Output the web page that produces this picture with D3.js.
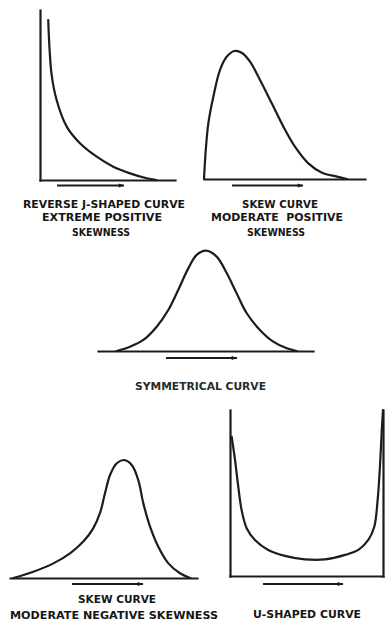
<!DOCTYPE html>
<html>
<head>
<meta charset="utf-8">
<script src="https://cdn.jsdelivr.net/npm/d3@7"></script>
<style>
  html, body { margin: 0; padding: 0; background: #fff; }
  svg { display: block; }
  .lbl { font-family: "DejaVu Sans", sans-serif; font-weight: bold; fill: #161616; }
</style>
</head>
<body>
<svg id="chart" width="385" height="621"></svg>
<script>
// Frequency-curve shapes: x = position along the scale (0-100), y = relative frequency (0-100)

// Reverse J-shaped curve
const reverseJX = [6.1, 7.0, 8.6, 12.3, 19.8, 29.6, 42.0, 54.3, 66.7, 79.0, 86.4];
const reverseJY = [94.1, 78.0, 62.0, 47.1, 31.4, 21.6, 13.7, 7.8, 3.9, 1.0, 0];

// Moderate positive skew
const posSkewX = [0, 1.1, 2.7, 5.8, 9.9, 14.1, 18.8, 23.4, 28.6, 34.8, 42.1, 49.3, 56.5, 64.8, 73.3, 82.6, 88.8];
const posSkewY = [0, 17.1, 32.8, 48.4, 64.1, 71.9, 75.3, 74.3, 69.0, 58.2, 44.5, 30.8, 19.0, 9.2, 3.7, 1.4, 0];

// Symmetrical curve
const symX = [8.7, 14.9, 21.1, 27.3, 32.7, 37.3, 42.0, 45.9, 50.2, 55.2, 59.9, 64.5, 69.2, 75.3, 81.5, 87.8, 92.4];
const symY = [0, 2.5, 6.5, 14.3, 24.1, 35.9, 48.6, 56.5, 59.0, 55.5, 45.7, 33.9, 22.2, 12.4, 5.5, 1.6, 0];

// Moderate negative skew
const negSkewX = [1.8, 12.5, 23.2, 32.1, 39.2, 44.5, 48.1, 50.8, 53.5, 57.1, 61.0, 65.1, 68.6, 71.3, 74.9, 79.3, 84.7, 90.9, 96.3];
const negSkewY = [0, 3.7, 8.6, 14.5, 21.4, 29.2, 38.1, 49.8, 60.6, 67.5, 69.4, 66.5, 57.6, 43.9, 30.2, 18.4, 8.6, 2.8, 0];

// U-shaped curve
const uShapeX = [1.1, 3.3, 5.4, 7.6, 10.9, 16.3, 25.0, 35.9, 49.0, 62.1, 75.2, 83.9, 90.4, 94.3, 96.5, 98.0, 99.1, 100];
const uShapeY = [83.9, 69.8, 53.8, 39.7, 28.8, 21.7, 15.7, 12.1, 10.0, 10.0, 12.7, 15.7, 21.7, 29.7, 45.8, 65.8, 85.9, 100];

// Captions
const reverseJLabel = ["REVERSE J-SHAPED CURVE", "EXTREME POSITIVE", "SKEWNESS"];
const posSkewLabel = ["SKEW CURVE", "MODERATE  POSITIVE", "SKEWNESS"];
const symLabel = ["SYMMETRICAL CURVE"];
const negSkewLabel = ["SKEW CURVE", "MODERATE NEGATIVE SKEWNESS"];
const uShapeLabel = ["U-SHAPED CURVE"];

// Panel layout (pixel ranges, arrow placement, caption lines as [left, right, baseline])
const panels = [
  { xs: reverseJX, ys: reverseJY, xRange: [40, 175], yRange: [180, 10], axes: ["left"],
    arrow: [57, 124, 185.5], label: reverseJLabel,
    lines: [[23, 185, 207.5], [42, 162, 220.5], [72, 130, 236]], size: 10.5 },
  { xs: posSkewX, ys: posSkewY, xRange: [204, 365], yRange: [179, 9], axes: [],
    arrow: [232, 303, 185.5], label: posSkewLabel,
    lines: [[242, 318, 207.5], [211, 343, 220.5], [247, 305, 236]], size: 10.5 },
  { xs: symX, ys: symY, xRange: [98, 313], yRange: [351, 181], axes: [],
    arrow: [166, 237, 358], label: symLabel,
    lines: [[135, 266, 390]], size: 10, fill: "#2a2a2a" },
  { xs: negSkewX, ys: negSkewY, xRange: [10, 197], yRange: [578, 408], axes: [],
    arrow: [72, 143, 584], label: negSkewLabel,
    lines: [[78, 156, 602.5], [10, 218, 619]], size: 10.5 },
  { xs: uShapeX, ys: uShapeY, xRange: [230, 383], yRange: [576, 410], axes: ["left", "right"],
    arrow: [263, 343, 584], label: uShapeLabel,
    lines: [[253, 361, 618]], size: 10.5 }
];

const ink = "#1c1c1c";
const svg = d3.select("#chart");

svg.append("defs").append("marker")
  .attr("id", "head")
  .attr("viewBox", "0 0 10 10")
  .attr("refX", 9).attr("refY", 5)
  .attr("markerWidth", 9).attr("markerHeight", 6)
  .attr("markerUnits", "userSpaceOnUse")
  .attr("orient", "auto")
  .append("path")
  .attr("d", "M0,1.5 L10,5 L0,8.5 Z")
  .attr("fill", ink);

panels.forEach(p => {
  const x = d3.scaleLinear().domain([0, 100]).range(p.xRange);
  const y = d3.scaleLinear().domain([0, 100]).range(p.yRange);
  const g = svg.append("g");

  // baseline
  g.append("g")
    .attr("transform", `translate(0,${y(0)})`)
    .call(d3.axisBottom(x).ticks(0).tickSizeOuter(0));
  // vertical axes
  p.axes.forEach(side => {
    const ax = side === "left" ? d3.axisLeft(y) : d3.axisRight(y);
    g.append("g")
      .attr("transform", `translate(${x(side === "left" ? 0 : 100)},0)`)
      .call(ax.ticks(0).tickSizeOuter(0));
  });
  g.selectAll(".domain")
    .attr("stroke", ink)
    .attr("stroke-width", 2.2)
    .attr("stroke-linecap", "square");

  // frequency curve
  const pts = p.xs.map((v, i) => [v, p.ys[i]]);
  g.append("path")
    .datum(pts)
    .attr("fill", "none")
    .attr("stroke", ink)
    .attr("stroke-width", 2.2)
    .attr("stroke-linejoin", "round")
    .attr("stroke-linecap", "round")
    .attr("d", d3.line().x(d => x(d[0])).y(d => y(d[1])).curve(d3.curveCatmullRom.alpha(0.5)));

  // direction arrow
  g.append("line")
    .attr("x1", p.arrow[0]).attr("x2", p.arrow[1])
    .attr("y1", p.arrow[2]).attr("y2", p.arrow[2])
    .attr("stroke", ink)
    .attr("stroke-width", 1.8)
    .attr("marker-end", "url(#head)");

  // caption
  p.label.forEach((t, i) => {
    const [l, r, b] = p.lines[i];
    g.append("text")
      .attr("class", "lbl")
      .attr("x", l).attr("y", b)
      .attr("textLength", r - l)
      .attr("lengthAdjust", "spacingAndGlyphs")
      .attr("font-size", p.size)
      .style("fill", p.fill || null)
      .attr("xml:space", "preserve")
      .text(t);
  });
});
</script>
</body>
</html>
